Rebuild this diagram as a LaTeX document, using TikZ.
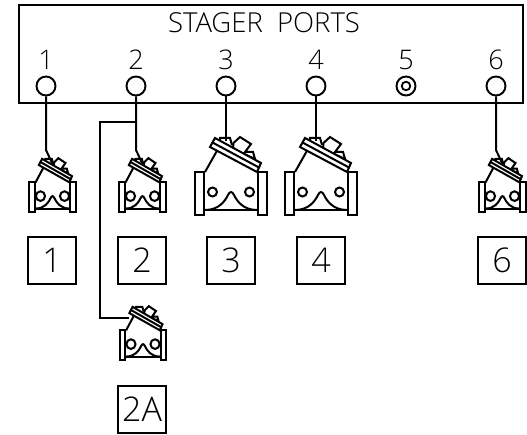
\documentclass[tikz,border=0pt]{standalone}
\usepackage{fontspec}
\setmainfont{Open Sans Light}
\tikzset{
  lw/.style={line width=2pt,line join=miter},
  port/.style={circle,draw,line width=1.9pt,minimum size=19pt,inner sep=0pt},
  portin/.style={circle,draw,line width=1.8pt,minimum size=8.5pt,inner sep=0pt},
  lab/.style={font=\fontsize{27}{27}\selectfont,inner sep=0pt},
  ttl/.style={font=\fontsize{27.5}{28}\selectfont,inner sep=0pt},
  box/.style={draw,line width=2pt,minimum width=48pt,minimum height=47pt,inner sep=0pt,font=\fontsize{34}{34}\selectfont},
  valve/.pic={
    \draw[lw,fill=white] (-36,-43) rectangle (-27,0);
    \draw[lw,fill=white] (27,-43) rectangle (36,0);
    \draw[lw] (-26,-43) -- (-13,-66);
    \draw[lw] (27,-43) -- (24,-50);
    \draw[lw] (-26,-5) .. controls (-12,-5) and (-6,-14) .. (-3,-20) .. controls (-1,-24) and (1,-24) .. (3,-20) .. controls (6,-14) and (12,-5) .. (26,-5);
    \draw[lw] (-27,-5) -- (27,-5);
    \draw[lw] (-18.5,-23) circle (#1);
    \draw[lw] (18.5,-23) circle (#1);
    \draw[lw,fill=white] (2.5,-72) -- (9,-78) -- (20,-71) -- (14,-63) -- (22,-63) -- (24,-56) -- (2,-66) -- cycle;
    \draw[lw,fill=white] (-11,-74) -- (-11,-77) -- (-1,-77) -- (1,-70);
    \draw[lw,fill=white] (-21,-68) -- (-16,-77) -- (30,-52) -- (26,-43) -- cycle;
    \draw[lw] (-18.5,-72.5) -- (28,-47.5);
  }
}
\begin{document}
\begin{tikzpicture}[x=1pt,y=-1pt]
\useasboundingbox (0,0) rectangle (527,435);
\node[draw,line width=2pt,inner sep=0pt,minimum width=504pt,minimum height=98pt] (panel) at (271,54) {};
\node[ttl] (title) at (264,23) {STAGER\ \ PORTS};
\foreach \n/\x in {1/46,2/136,3/226,4/316,6/496}{
  \node[port] (p\n) at (\x,86) {};
  \node[lab] (t\n) at (\x,60) {\n};
}
\node[port] (p5) at (406,86) {};
\node[portin] (p5i) at (406,86) {};
\node[lab] (t5) at (406,60) {5};
\pic[xscale=.65,yscale=.69] at (52.5,212) {valve=7};
\pic[xscale=.65,yscale=.69] at (142.5,212) {valve=7};
\pic at (231,215) {valve=4.5};
\pic at (321,215) {valve=4.5};
\pic[xscale=.65,yscale=.69] at (502.5,212) {valve=7};
\pic[xscale=.65,yscale=.69] at (143,360) {valve=7};
\coordinate (v1) at (52,163);
\coordinate (v2) at (142,163);
\coordinate (v3) at (226,141);
\coordinate (v4) at (316,141);
\coordinate (v6) at (502,163);
\coordinate (v2a) at (129,318);
\coordinate (j) at (136,122);
\coordinate (k) at (99.5,122);
\coordinate (m) at (99.5,318);
\draw[lw] (p1) -- (46,150) -- (v1);
\draw[lw] (p2) -- (136,150) -- (v2);
\draw[lw] (p3) -- (v3);
\draw[lw] (p4) -- (v4);
\draw[lw] (p6) -- (496,150) -- (v6);
\draw[lw] (j) -- (k) -- (m) -- (v2a);
\node[box] (b1) at (52,260.5) {1};
\node[box] (b2) at (142,260.5) {2};
\node[box] (b3) at (231,260.5) {3};
\node[box] (b4) at (321,260.5) {4};
\node[box] (b6) at (502,260.5) {6};
\node[box] (b2a) at (142,409) {2A};
\end{tikzpicture}
\end{document}
